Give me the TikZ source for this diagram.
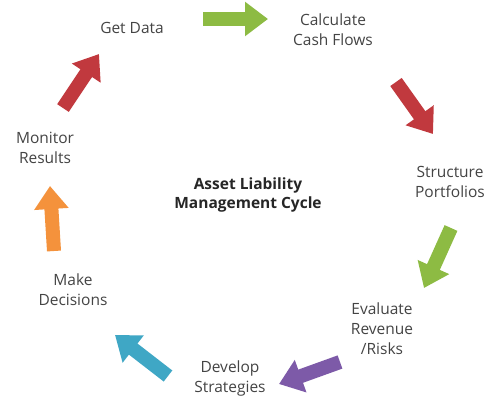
\documentclass[tikz,border=0pt]{standalone}
\usepackage{fontspec}
\setmainfont{Open Sans}
\usetikzlibrary{arrows.meta}

\definecolor{almgreen}{HTML}{8DBB43}
\definecolor{almred}{HTML}{C1393E}
\definecolor{almorange}{HTML}{F4923C}
\definecolor{almblue}{HTML}{3FA7C5}
\definecolor{almpurple}{HTML}{7D5AA8}
\definecolor{almtext}{HTML}{444444}

\tikzset{
    step label/.style={align=center, text=almtext, font=\fontsize{15.5}{20}\selectfont},
    block arrow/.style={line width=14pt, -{Triangle[width=33pt, length=23pt]}}
}

\begin{document}
\begin{tikzpicture}[x=1pt, y=-1pt]
    \useasboundingbox[fill=white] (0,0) rectangle (499,400);

    % Title in the middle
    \node[align=center, font=\fontsize{15.5}{18.5}\selectfont\bfseries, text=black!85] (title) at (248,195) {Asset Liability\\Management Cycle};

    % Steps of the cycle
    \node[step label] (data) at (132,28) {Get Data};
    \node[step label] (cash) at (333,30) {Calculate\\Cash Flows};
    \node[step label] (struct) at (450,182) {Structure\\Portfolios};
    \node[step label] (eval) at (382,329) {Evaluate\\Revenue\\/Risks};
    \node[step label] (strat) at (230,378) {Develop\\Strategies};
    \node[step label] (decide) at (73,290) {Make\\Decisions};
    \node[step label] (monitor) at (45,148) {Monitor\\Results};

    % Arrow ends
    \coordinate (a1) at (203,19);  \coordinate (b1) at (268,19);
    \coordinate (a2) at (396,82);  \coordinate (b2) at (433,134);
    \coordinate (a3) at (451,228); \coordinate (b3) at (424,288);
    \coordinate (a4) at (340,362); \coordinate (b4) at (279,384);
    \coordinate (a5) at (168,376); \coordinate (b5) at (115,335);
    \coordinate (a6) at (54,251);  \coordinate (b6) at (50,186);
    \coordinate (a7) at (63,108);  \coordinate (b7) at (99,54);

    % Block arrows
    \draw[block arrow, almgreen] (a1) -- (b1);
    \draw[block arrow, almred] (a2) -- (b2);
    \draw[block arrow, almgreen] (a3) -- (b3);
    \draw[block arrow, almpurple] (a4) -- (b4);
    \draw[block arrow, almblue] (a5) -- (b5);
    \draw[block arrow, almorange] (a6) -- (b6);
    \draw[block arrow, almred] (a7) -- (b7);
\end{tikzpicture}
\end{document}
